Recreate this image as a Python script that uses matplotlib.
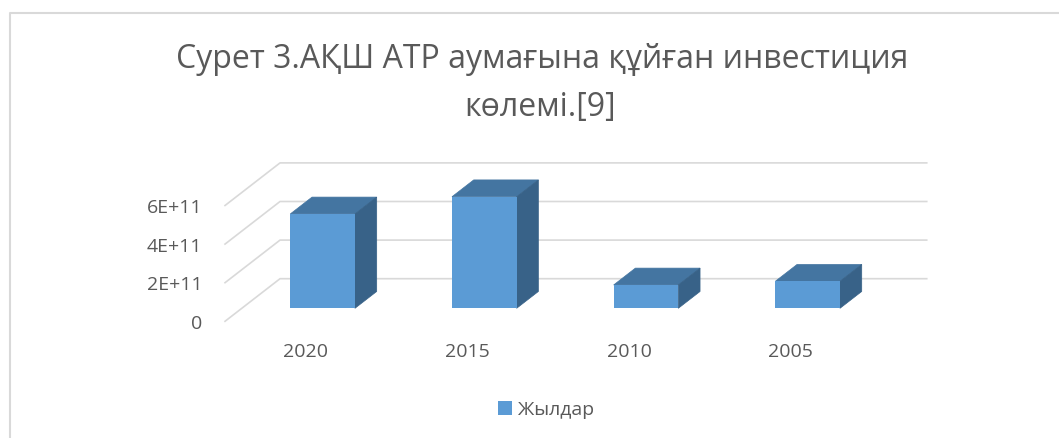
import matplotlib
matplotlib.use('Agg')
import matplotlib.pyplot as plt
import numpy as np
from matplotlib.patches import Polygon
from matplotlib.transforms import IdentityTransform
from matplotlib.lines import Line2D

plt.rcParams['font.family'] = ['Open Sans', 'DejaVu Sans']

# ---------------- data ----------------
title_line1 = 'Сурет 3.АҚШ АТР аумағына құйған инвестиция'
title_line2 = 'көлемі.[9]'
categories = ['2020', '2015', '2010', '2005']
values = [4.89e11, 5.78e11, 1.21e11, 1.40e11]
y_ticks = [0, 2e11, 4e11, 6e11]
y_tick_labels = ['0', '2E+11', '4E+11', '6E+11']
series_name = 'Жылдар'

# ---------------- style ----------------
W, H = 1059, 439
TEXT_C = '#595959'
GRID_C = '#d9d9d9'
FRONT_C = '#5B9BD5'
TOP_C = '#4475A1'
SIDE_C = '#386288'

fig = plt.figure(figsize=(W / 100, H / 100), dpi=100)
# axes = plane of the bar front faces
ax = fig.add_axes([241.8 / W, 129.7 / H, 646.7 / W, 115.8 / H])
ax.set_xlim(-0.5, len(categories) - 0.5)
ax.set_ylim(y_ticks[0], y_ticks[-1])
ax.axis('off')

DEPTH = np.array([55.0, 42.6])   # screen offset (px) of full floor depth
BAR_PLANE = 0.305                # depth fraction of bar front faces
BAR_BACK = 0.70                  # depth fraction of bar back faces
IDT = IdentityTransform()


def disp(x, y, d=BAR_PLANE):
    p = ax.transData.transform((x, y))
    return p + (d - BAR_PLANE) * DEPTH


x_lo, x_hi = ax.get_xlim()

# back wall gridlines + side wall lines
for v in y_ticks:
    c = disp(x_lo, v, 0.0)
    a = disp(x_lo, v, 1.0)
    b = disp(x_hi, v, 1.0)
    ax.add_line(Line2D([c[0], a[0], b[0]], [c[1], a[1], b[1]], transform=IDT,
                       color=GRID_C, lw=1.2, clip_on=False, zorder=1))

# bars (front faces)
bars = ax.bar(range(len(categories)), values, width=0.40, color=FRONT_C,
              zorder=3, label=series_name, clip_on=False)

# top and side faces
for rect in bars.patches:
    x0 = rect.get_x()
    x1 = x0 + rect.get_width()
    v = rect.get_height()
    fl, fr = disp(x0, v), disp(x1, v)
    bl, br = disp(x0, v, BAR_BACK), disp(x1, v, BAR_BACK)
    r0, rb0 = disp(x1, 0), disp(x1, 0, BAR_BACK)
    ax.add_patch(Polygon([fl, fr, br, bl], closed=True, transform=IDT,
                         facecolor=TOP_C, edgecolor=TOP_C, lw=0.5,
                         clip_on=False, zorder=2.5))
    ax.add_patch(Polygon([fr, br, rb0, r0], closed=True, transform=IDT,
                         facecolor=SIDE_C, edgecolor=SIDE_C, lw=0.5,
                         clip_on=False, zorder=2.5))

# y tick labels
for v, lab in zip(y_ticks, y_tick_labels):
    p = disp(x_lo, v, 0.0)
    ax.text(p[0] - 23, p[1] - 1.5, lab, transform=IDT, ha='right', va='center',
            fontsize=14, color=TEXT_C)

# x tick labels
for i, lab in enumerate(categories):
    p = disp(i, 0, 0.0)
    ax.text(p[0], p[1] - 30, lab, transform=IDT, ha='center', va='center',
            fontsize=14, color=TEXT_C)

# title
fig.text(542 / W, (H - 67.5) / H, title_line1, ha='center', va='baseline',
         fontsize=23, color=TEXT_C)
fig.text(540 / W, (H - 116) / H, title_line2, ha='center', va='baseline',
         fontsize=23, color=TEXT_C)

# legend
ax.legend(handles=[bars], labels=[series_name], loc='center',
          bbox_to_anchor=(546 / W, 1 - 410.5 / H), bbox_transform=fig.transFigure,
          frameon=False, fontsize=14, handlelength=0.72, handleheight=0.72,
          handletextpad=0.35, labelcolor=TEXT_C)

# chart frame (top and left edges visible)
fig.add_artist(Line2D([9.5, 9.5, W], [0, H - 14, H - 14], transform=IDT,
                      color=GRID_C, lw=1.5))

fig.savefig('out.png', dpi=100)
